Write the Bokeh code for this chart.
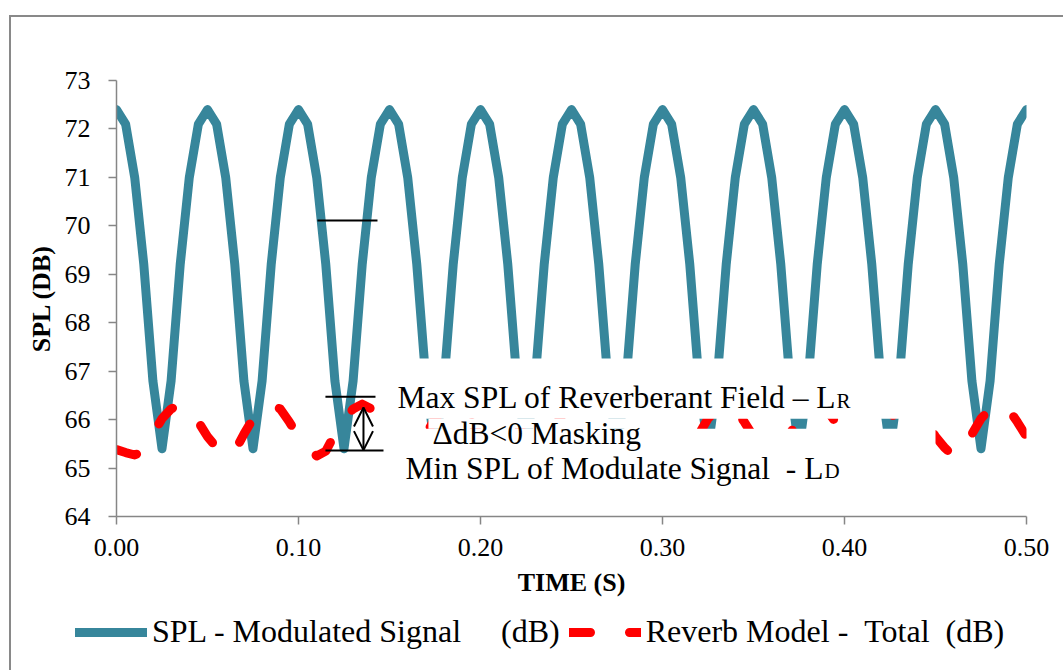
from bokeh.plotting import figure
from bokeh.models import (Range1d, FixedTicker, PrintfTickFormatter, Legend, LegendItem,
                          Arrow, OpenHead)
from bokeh.core.properties import value
from bokeh.embed import file_html
from bokeh.resources import INLINE

# ---------------- data ----------------
time_s = [
    0.000, 0.005, 0.010, 0.015, 0.020, 0.025, 0.030, 0.035, 0.040, 0.045,
    0.050, 0.055, 0.060, 0.065, 0.070, 0.075, 0.080, 0.085, 0.090, 0.095,
    0.100, 0.105, 0.110, 0.115, 0.120, 0.125, 0.130, 0.135, 0.140, 0.145,
    0.150, 0.155, 0.160, 0.165, 0.170, 0.175, 0.180, 0.185, 0.190, 0.195,
    0.200, 0.205, 0.210, 0.215, 0.220, 0.225, 0.230, 0.235, 0.240, 0.245,
    0.250, 0.255, 0.260, 0.265, 0.270, 0.275, 0.280, 0.285, 0.290, 0.295,
    0.300, 0.305, 0.310, 0.315, 0.320, 0.325, 0.330, 0.335, 0.340, 0.345,
    0.350, 0.355, 0.360, 0.365, 0.370, 0.375, 0.380, 0.385, 0.390, 0.395,
    0.400, 0.405, 0.410, 0.415, 0.420, 0.425, 0.430, 0.435, 0.440, 0.445,
    0.450, 0.455, 0.460, 0.465, 0.470, 0.475, 0.480, 0.485, 0.490, 0.495,
    0.500,
]

spl_modulated = [
    72.4, 72.1, 71.0, 69.2, 66.8, 65.4, 66.8, 69.2, 71.0, 72.1,
    72.4, 72.1, 71.0, 69.2, 66.8, 65.4, 66.8, 69.2, 71.0, 72.1,
    72.4, 72.1, 71.0, 69.2, 66.8, 65.4, 66.8, 69.2, 71.0, 72.1,
    72.4, 72.1, 71.0, 69.2, 66.8, 65.4, 66.8, 69.2, 71.0, 72.1,
    72.4, 72.1, 71.0, 69.2, 66.8, 65.4, 66.8, 69.2, 71.0, 72.1,
    72.4, 72.1, 71.0, 69.2, 66.8, 65.4, 66.8, 69.2, 71.0, 72.1,
    72.4, 72.1, 71.0, 69.2, 66.8, 65.4, 66.8, 69.2, 71.0, 72.1,
    72.4, 72.1, 71.0, 69.2, 66.8, 65.4, 66.8, 69.2, 71.0, 72.1,
    72.4, 72.1, 71.0, 69.2, 66.8, 65.4, 66.8, 69.2, 71.0, 72.1,
    72.4, 72.1, 71.0, 69.2, 66.8, 65.4, 66.8, 69.2, 71.0, 72.1,
    72.4,
]

reverb_total = [
    65.38, 65.32, 65.27, 65.35, 65.70, 66.02, 66.22, 66.32, 66.22, 65.95,
    65.65, 65.42, 65.25, 65.35, 65.70, 66.02, 66.22, 66.32, 66.22, 65.95,
    65.65, 65.42, 65.25, 65.35, 65.70, 66.02, 66.22, 66.32, 66.22, 65.95,
    65.65, 65.42, 65.25, 65.35, 65.70, 66.02, 66.22, 66.32, 66.22, 65.95,
    65.65, 65.42, 65.25, 65.35, 65.70, 66.02, 66.22, 66.32, 66.22, 65.95,
    65.65, 65.42, 65.25, 65.35, 65.70, 66.02, 66.22, 66.32, 66.22, 65.95,
    65.65, 65.42, 65.25, 65.35, 65.70, 66.02, 66.22, 66.32, 66.22, 65.95,
    65.65, 65.42, 65.25, 65.35, 65.70, 66.02, 66.22, 66.32, 66.22, 65.95,
    65.65, 65.42, 65.25, 65.35, 65.70, 66.02, 66.22, 66.32, 66.22, 65.95,
    65.65, 65.42, 65.25, 65.35, 65.70, 66.02, 66.22, 66.32, 66.22, 65.95,
    65.65,
]

x_ticks = [0.0, 0.1, 0.2, 0.3, 0.4, 0.5]
y_ticks = [64, 65, 66, 67, 68, 69, 70, 71, 72, 73]

NB = "\u00a0"
series_labels = ["SPL - Modulated Signal" + NB * 5 + "(dB)",
                 "Reverb Model -" + NB * 2 + "Total" + NB * 2 + "(dB)"]

# annotation texts
note_max = "Max SPL of Reverberant Field \u2013 L"
note_max_sub = "R"
note_delta = "\u0394dB<0 Masking"
note_min = "Min SPL of Modulate Signal" + NB + " - L"
note_min_sub = "D"

# ---------------- styling ----------------
FONT = "Liberation Serif"
BLUE = "#37869B"
RED = "#FF0000"
AXIS_GRAY = "#868686"
BORDER = "2px solid #898989"
line_style = dict(line_width=9, line_join="round", line_cap="round")
red_dash = "21 39"

p = figure(frame_width=910, frame_height=436,
           x_range=Range1d(0, 0.5), y_range=Range1d(64, 73),
           output_backend="svg", toolbar_location=None,
           min_border_left=105, min_border_right=37,
           min_border_top=63, min_border_bottom=95)
p.styles = {"border-left": BORDER, "border-top": BORDER, "box-sizing": "content-box",
            "margin-left": "9px", "margin-top": "15px"}
p.outline_line_color = None
p.xgrid.grid_line_color = None
p.ygrid.grid_line_color = None
p.background_fill_color = "white"
p.border_fill_color = "white"

for ax in (p.xaxis, p.yaxis):
    ax.axis_line_color = AXIS_GRAY
    ax.axis_line_width = 1.5
    ax.major_tick_line_color = AXIS_GRAY
    ax.major_tick_line_width = 1.5
    ax.major_tick_out = 8
    ax.major_tick_in = 0
    ax.minor_tick_line_color = None
    ax.major_label_text_font = FONT
    ax.major_label_text_font_size = "26px"
    ax.major_label_text_color = "black"
    ax.axis_label_text_font = FONT
    ax.axis_label_text_font_size = "26px"
    ax.axis_label_text_font_style = "bold"
    ax.axis_label_text_color = "black"

p.xaxis.ticker = FixedTicker(ticks=x_ticks)
p.xaxis.formatter = PrintfTickFormatter(format="%.2f")
p.xaxis.major_label_standoff = 14
p.xaxis.axis_label = "TIME (S)"
p.xaxis.axis_label_standoff = 9

p.yaxis.ticker = FixedTicker(ticks=y_ticks)
p.yaxis.major_label_standoff = 18
p.yaxis.axis_label = "SPL (DB)"
p.yaxis.axis_label_standoff = 6

p.line(time_s, spl_modulated, line_color=BLUE, **line_style)
p.line(time_s, reverb_total, line_color=RED, line_dash=red_dash, **line_style)

# white text boxes that hide the curves behind the annotations
p.quad(left=[0.1478, 0.1714, 0.1478], right=[0.450, 0.2934, 0.450],
       top=[67.26, 66.02, 65.81], bottom=[66.02, 65.81, 64.74],
       fill_color="white", line_color=None)

# black marker lines
p.segment(x0=[0.1104, 0.1148, 0.1148], y0=[70.11, 66.47, 65.36],
          x1=[0.1434, 0.1423, 0.1467], y1=[70.11, 66.47, 65.36],
          line_color="black", line_width=2)

p.add_layout(Arrow(start=OpenHead(size=19, line_width=2, line_color="black"),
                   end=OpenHead(size=19, line_width=2, line_color="black"),
                   x_start=0.1357, y_start=65.37, x_end=0.1357, y_end=66.25,
                   line_width=2, line_color="black"))

txt = dict(text_font=value(FONT), text_color="black", text_baseline="alphabetic",
           text_align="left")
p.text(x=[0.1544], y=[66.45], text=[note_max], text_font_size=value("31.5px"), **txt)
p.text(x=[0.3956], y=[66.39], text=[note_max_sub], text_font_size=value("21px"), **txt)
p.text(x=[0.1736], y=[65.71], text=[note_delta], text_font_size=value("31.5px"), **txt)
p.text(x=[0.1588], y=[65.00], text=[note_min], text_font_size=value("31.5px"), **txt)
p.text(x=[0.3890], y=[64.94], text=[note_min_sub], text_font_size=value("21px"), **txt)

# ---------------- legend strip below the chart ----------------
leg = figure(width=1052, height=59, x_range=Range1d(0, 1), y_range=Range1d(0, 1),
             output_backend="svg", toolbar_location=None,
             x_axis_type=None, y_axis_type=None,
             min_border_left=0, min_border_right=0, min_border_top=0, min_border_bottom=0)
leg.styles = {"border-left": BORDER, "box-sizing": "content-box", "margin-left": "9px"}
leg.outline_line_color = None
leg.background_fill_color = "white"
leg.border_fill_color = "white"
# legend-only renderers (their points lie outside the visible range)
lb = leg.line(x=[-5, -4], y=[-5, -4], line_color=BLUE, **line_style)
lr = leg.line(x=[-5, -4], y=[-5, -4], line_color=RED, line_dash=red_dash, **line_style)

legend = Legend(items=[LegendItem(label=series_labels[0], renderers=[lb]),
                       LegendItem(label=series_labels[1], renderers=[lr])],
                orientation="horizontal", location=(64, 20),
                glyph_width=72, glyph_height=20, label_standoff=5, spacing=9,
                padding=0, margin=0, border_line_color=None,
                background_fill_alpha=0,
                label_text_font=FONT, label_text_font_size="32px",
                label_text_color="black")
leg.add_layout(legend, "center")

open("out.html", "w").write(file_html([p, leg], INLINE))
